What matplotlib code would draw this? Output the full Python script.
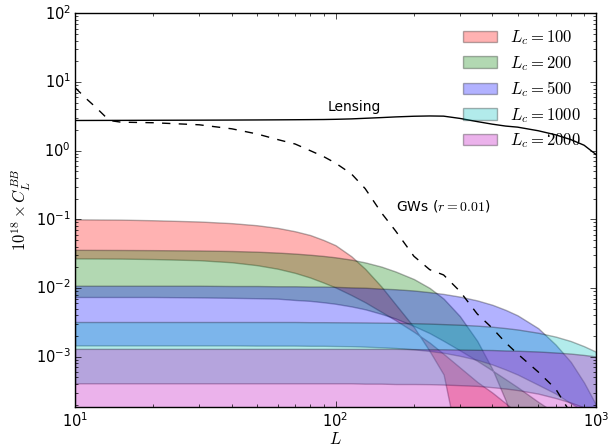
# -*- coding: utf-8 -*-
"""B-mode power for several cut-off scales L_c, with lensing and GW curves."""
import matplotlib
matplotlib.use("Agg")
import matplotlib.pyplot as plt
import numpy as np

# ---------------------------------------------------------------- data
ell = [10, 15, 20, 30, 40, 50, 60, 70, 80, 90, 100, 115, 130, 150, 170,
       200, 230, 260, 300, 350, 400, 450, 500, 600, 700, 800, 900, 1000]

# each band: upper edge at low L ("hi") and lower edge at low L ("lo")
lc100_hi = [0.100, 0.099, 0.097, 0.093, 0.088, 0.082, 0.075, 0.067, 0.059, 0.050,
            0.042, 0.029, 0.019, 0.0105, 0.0058, 0.0027, 0.0012, 5.5e-4, 4e-5,
            1e-6, 1e-6, 1e-6, 1e-6, 1e-6, 1e-6, 1e-6, 1e-6, 1e-6]
lc100_lo = [0.027, 0.0268, 0.0264, 0.0254, 0.0237, 0.0215, 0.0191, 0.0166, 0.0142,
            0.0120, 0.0102, 0.0079, 0.0062, 0.0045, 0.0034, 0.0023, 0.0016, 0.0011,
            7e-4, 4.3e-4, 3e-4, 2.1e-4, 1.5e-4, 8e-5, 4e-5, 2e-5, 1e-5, 5e-6]

lc200_hi = [0.036, 0.0358, 0.0356, 0.0352, 0.0346, 0.0338, 0.0328, 0.0317, 0.0305,
            0.0293, 0.0280, 0.0259, 0.0236, 0.0205, 0.0174, 0.0135, 0.0100, 0.0070,
            0.0039, 0.0017, 6.6e-4, 2.3e-4, 7e-5, 4e-6, 1e-6, 1e-6, 1e-6, 1e-6]
lc200_lo = [0.0074, 0.0074, 0.0074, 0.0073, 0.0072, 0.0071, 0.0070, 0.0067, 0.0065,
            0.0062, 0.0059, 0.0054, 0.0049, 0.0042, 0.0036, 0.0028, 0.0022, 0.0017,
            0.00124, 8.7e-4, 6.3e-4, 4.7e-4, 3.6e-4, 2.2e-4, 1.5e-4, 1.05e-4,
            7.5e-5, 5.5e-5]

lc500_hi = [0.0108, 0.0108, 0.0108, 0.0108, 0.0107, 0.0107, 0.0106, 0.0106, 0.0105,
            0.0105, 0.0104, 0.0102, 0.0101, 0.0098, 0.0096, 0.0092, 0.0087, 0.0082,
            0.0075, 0.0066, 0.0057, 0.0048, 0.0040, 0.0026, 0.0015, 8.4e-4,
            4.2e-4, 2.0e-4]
lc500_lo = [0.00146, 0.00146, 0.00146, 0.00146, 0.00146, 0.00145, 0.00145, 0.00145,
            0.00144, 0.00144, 0.00143, 0.00142, 0.00140, 0.00137, 0.00134, 0.00128,
            0.00121, 0.00114, 0.00103, 9.0e-4, 7.7e-4, 6.5e-4, 5.5e-4, 3.9e-4,
            2.9e-4, 2.1e-4, 1.6e-4, 1.24e-4]

lc1000_hi = [0.0032, 0.0032, 0.0032, 0.0032, 0.0032, 0.0032, 0.0032, 0.0032, 0.00318,
             0.00318, 0.00317, 0.00316, 0.00315, 0.00313, 0.00311, 0.00307, 0.00303,
             0.00298, 0.00292, 0.00283, 0.00273, 0.00261, 0.00249, 0.00223, 0.00196,
             0.00169, 0.00142, 0.00118]
lc1000_lo = [4.1e-4, 4.1e-4, 4.1e-4, 4.1e-4, 4.1e-4, 4.1e-4, 4.1e-4, 4.1e-4, 4.1e-4,
             4.1e-4, 4.1e-4, 4.1e-4, 4.05e-4, 4.05e-4, 4.0e-4, 4.0e-4, 3.98e-4,
             3.93e-4, 3.85e-4, 3.76e-4, 3.6e-4, 3.44e-4, 3.27e-4, 2.9e-4, 2.5e-4,
             2.15e-4, 1.83e-4, 1.55e-4]

lc2000_hi = [0.0013, 0.0013, 0.0013, 0.0013, 0.0013, 0.0013, 0.0013, 0.0013, 0.0013,
             0.0013, 0.0013, 0.0013, 0.0013, 0.0013, 0.0013, 0.00129, 0.00128,
             0.00128, 0.00127, 0.00126, 0.00125, 0.00123, 0.00122, 0.00119, 0.00115,
             0.00111, 0.00106, 0.00101]
lc2000_lo = [1.0e-4, 1.0e-4, 1.0e-4, 1.0e-4, 1.0e-4, 1.0e-4, 1.0e-4, 1.0e-4, 1.0e-4,
             1.0e-4, 1.0e-4, 1.0e-4, 1.0e-4, 1.0e-4, 1.0e-4, 1.0e-4, 1.0e-4, 1.0e-4,
             1.0e-4, 1.0e-4, 1.0e-4, 1.0e-4, 1.0e-4, 9.8e-5, 9.6e-5, 9.3e-5, 9.0e-5,
             8.7e-5]

lensing = [2.75, 2.76, 2.77, 2.78, 2.79, 2.80, 2.81, 2.82, 2.83, 2.84, 2.86, 2.90,
           2.96, 3.03, 3.10, 3.17, 3.20, 3.18, 2.95, 2.65, 2.43, 2.28, 2.20, 1.95,
           1.70, 1.45, 1.20, 0.88]

gw_ell = [10, 11, 12, 13, 14, 15, 20, 30, 40, 50, 60, 70, 80, 90, 100, 115, 130,
          150, 170, 200, 230, 260, 300, 350, 400, 450, 500, 600, 700, 800]
gw = [8.3, 5.8, 4.3, 3.2, 2.7, 2.6, 2.55, 2.38, 2.08, 1.75, 1.45, 1.25, 1.0, 0.82,
      0.66, 0.46, 0.28, 0.125, 0.068, 0.029, 0.0185, 0.0155, 0.0090, 0.0042, 0.0026,
      0.0016, 0.0011, 6.0e-4, 3.4e-4, 1.5e-4]

cutoffs = [100, 200, 500, 1000, 2000]
bands = [(lc100_hi, lc100_lo), (lc200_hi, lc200_lo), (lc500_hi, lc500_lo),
         (lc1000_hi, lc1000_lo), (lc2000_hi, lc2000_lo)]
colors = ["r", "g", "b", "c", "m"]


def main():
    plt.style.use("classic")
    fig = plt.figure(figsize=(6.08, 4.46), dpi=100, facecolor="white")
    ax = fig.add_axes([75 / 608, 1 - 406.7 / 446, 521 / 608, 393.4 / 446])

    for lc, (hi, lo), col in zip(cutoffs, bands, colors):
        ax.fill_between(ell, hi, lo, facecolor=col, edgecolor="k",
                        linewidth=1.0, alpha=0.3, label=r"$L_c = %d$" % lc)

    ax.plot(ell, lensing, color="k", linewidth=1.0)
    ax.plot(gw_ell, gw, color="k", linestyle="--", linewidth=1.0)

    ax.text(118, 4.3, "Lensing", fontsize=10, ha="center", va="center")
    ax.text(258, 0.154, r"GWs ($r=0.01$)", fontsize=10, ha="center", va="center")

    ax.set_xscale("log")
    ax.set_yscale("log")
    ax.set_xlim(10, 1000)
    ax.set_ylim(1.87e-4, 100)
    ax.set_xlabel(r"$L$", fontsize=12, labelpad=0)
    ax.set_ylabel(r"$10^{18}\times C_L^{BB}$", fontsize=12, labelpad=2)
    ax.tick_params(labelsize=10.5)
    ax.tick_params(axis="x", which="both", pad=3)
    ax.tick_params(axis="y", which="both", pad=3)

    ax.legend(loc="upper right", frameon=False, fontsize=12, labelspacing=0.4)

    fig.savefig("out.png", dpi=100, facecolor="white")
    plt.close(fig)


if __name__ == "__main__":
    main()
